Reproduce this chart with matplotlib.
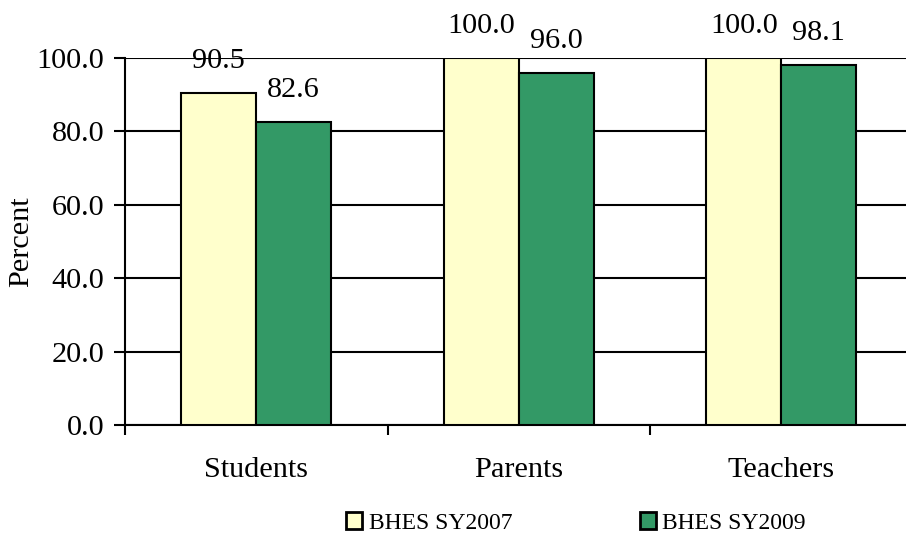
import matplotlib
matplotlib.use("Agg")
import matplotlib.pyplot as plt
import numpy as np
from matplotlib.patches import Patch

categories = ["Students", "Parents", "Teachers"]
series_names = ["BHES SY2007", "BHES SY2009"]
sy2007 = [90.5, 100.0, 100.0]
sy2009 = [82.6, 96.0, 98.1]
yticks = [0, 20, 40, 60, 80, 100]

plt.rcParams['font.family'] = ['Liberation Serif', 'DejaVu Serif']

fig = plt.figure(figsize=(9.06, 5.34), dpi=100)
ax = fig.add_axes([125/906, 109/534, 787.5/906, 367/534])

x = np.arange(len(categories))
w = 75/262.5
colors = ["#FFFFCC", "#339966"]
FS = 21.8
b1 = ax.bar(x - w/2, sy2007, w, color=colors[0], edgecolor="black", linewidth=1.5, zorder=3)
b2 = ax.bar(x + w/2, sy2009, w, color=colors[1], edgecolor="black", linewidth=1.5, zorder=3)

for bars, vals in ((b1, sy2007), (b2, sy2009)):
    for r, v in zip(bars, vals):
        ax.annotate(f"{v:.1f}", (r.get_x() + r.get_width()/2, v), xytext=(0, 19),
                    textcoords="offset pixels", ha="center", va="bottom",
                    fontsize=FS, annotation_clip=False, zorder=4)

ax.set_xlim(-0.5, 2.5)
ax.set_ylim(0, 100)
ax.set_yticks(yticks)
ax.set_yticklabels([f"{t:.1f}" for t in yticks], fontsize=FS)
ax.yaxis.grid(True, color="black", linewidth=1.5, zorder=0)
ax.set_axisbelow(True)

ax.set_xticks(np.arange(-0.5, 2.6, 1.0))
ax.set_xticklabels([])
ax.set_xticks(x, minor=True)
ax.set_xticklabels(categories, minor=True, fontsize=FS)
ax.tick_params(axis="x", which="minor", length=0, pad=23)
ax.tick_params(axis="x", which="major", length=7, width=1.5, direction="out")
ax.tick_params(axis="y", length=8, width=1.5, direction="out", pad=7)

for s in ("top", "right"):
    ax.spines[s].set_visible(False)
for s in ("left", "bottom"):
    ax.spines[s].set_linewidth(1.5)

ax.set_ylabel("Percent", fontsize=FS, labelpad=1.5)

handles = [Patch(facecolor=c, edgecolor="black", linewidth=2) for c in colors]
fig.legend(handles, series_names, loc="center", bbox_to_anchor=(576/906, 0.0206),
           ncol=2, frameon=False, fontsize=17, handlelength=0.68, handleheight=0.68,
           handletextpad=0.27, columnspacing=5.4, borderpad=0)

fig.savefig("out.png", dpi=100)
